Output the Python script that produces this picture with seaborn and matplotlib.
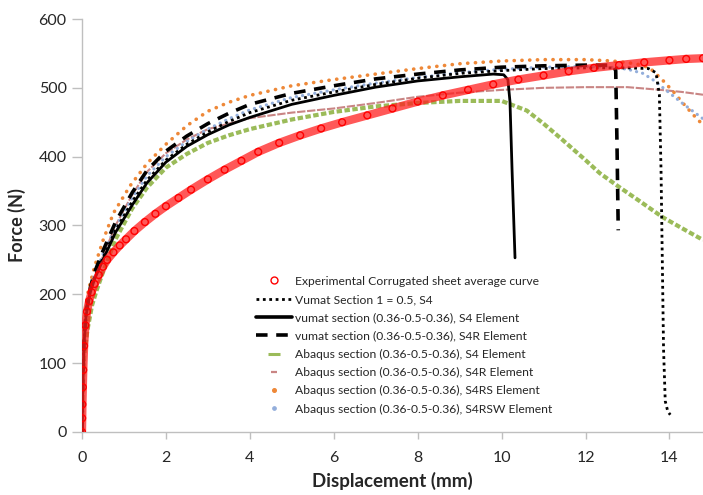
import numpy as np
import pandas as pd
import matplotlib
matplotlib.use("Agg")
import matplotlib.pyplot as plt
from matplotlib.lines import Line2D
import seaborn as sns

# ---------------- data ----------------
exp_x = [0, 0.005, 0.01, 0.02, 0.03, 0.05, 0.08, 0.12, 0.17, 0.23, 0.3, 0.4, 0.5, 0.6, 0.75, 0.9,
         1.05, 1.25, 1.5, 1.75, 2.0, 2.3, 2.6, 3.0, 3.4, 3.8, 4.2, 4.7, 5.2, 5.7, 6.2, 6.8, 7.4,
         8.0, 8.6, 9.2, 9.8, 10.4, 11.0, 11.6, 12.2, 12.8, 13.4, 14.0, 14.4, 14.8]
exp_y = [0, 20, 40, 65, 90, 125, 155, 175, 190, 203, 215, 228, 240, 250, 261, 271,
         280, 292, 305, 317, 328, 340, 352, 367, 381, 394, 407, 420, 431, 441, 450, 460, 470,
         480, 489, 497, 505, 512, 518, 524, 529, 533, 537, 540, 542, 543]

vs1_x = [0, 0.02, 0.05, 0.1, 0.2, 0.3, 0.5, 0.8, 1.2, 1.55, 2.0, 2.5, 3.0, 3.5, 4.0, 5.0, 6.0, 7.0,
         8.0, 9.0, 10.0, 11.0, 12.0, 13.0, 13.5, 13.68, 13.76, 13.8, 13.83, 13.86, 13.9, 13.96, 14.02]
vs1_y = [0, 70, 130, 172, 205, 225, 253, 293, 335, 366, 395, 418, 436, 451, 464, 482, 494, 505,
         514, 521, 525, 528, 529, 529, 528, 522, 490, 380, 250, 120, 45, 30, 25]

vs4_x = [0, 0.02, 0.05, 0.1, 0.2, 0.3, 0.5, 0.8, 1.2, 1.55, 2.0, 2.5, 3.0, 3.5, 4.0, 5.0, 6.0, 7.0,
         8.0, 9.0, 9.8, 10.05, 10.15, 10.2, 10.25, 10.32]
vs4_y = [0, 70, 130, 170, 203, 222, 250, 290, 330, 362, 392, 415, 432, 446, 457, 476, 489, 501,
         510, 516, 520, 519, 512, 480, 380, 253]

vs4r_x = [0, 0.02, 0.05, 0.1, 0.2, 0.3, 0.5, 0.8, 1.2, 1.55, 2.0, 2.5, 3.0, 3.5, 4.0, 5.0, 6.0, 7.0,
          8.0, 9.0, 10.0, 11.0, 12.0, 12.65, 12.72, 12.75, 12.78]
vs4r_y = [0, 72, 135, 176, 210, 232, 263, 305, 348, 380, 408, 430, 448, 463, 476, 492, 503, 513,
          520, 526, 530, 532, 533, 533, 525, 420, 293]

ab4_x = [0, 0.02, 0.05, 0.13, 0.24, 0.35, 0.5, 0.8, 1.2, 1.55, 2.0, 2.5, 3.0, 3.5, 4.0, 5.0, 6.0,
         7.0, 8.0, 9.0, 10.0, 10.6, 11.0, 11.46, 12.0, 12.34, 12.8, 13.3, 13.84, 14.3, 14.8]
ab4_y = [0, 70, 110, 148, 184, 206, 232, 280, 325, 355, 384, 404, 420, 431, 440, 454, 465,
         473, 478, 481, 481, 467, 448, 424, 395, 376, 356, 335, 312, 296, 279]

ab4r_x = [0, 0.02, 0.05, 0.1, 0.2, 0.3, 0.5, 0.8, 1.2, 1.55, 2.0, 2.5, 3.0, 4.0, 5.0, 6.0, 7.0,
          8.0, 9.0, 10.0, 11.0, 12.0, 13.0, 13.8, 14.3, 14.8]
ab4r_y = [0, 70, 130, 172, 205, 225, 255, 300, 345, 378, 405, 425, 440, 456, 464, 470, 478,
          487, 493, 497, 500, 501, 501, 497, 494, 490]

ab4rs_x = [0, 0.02, 0.05, 0.1, 0.15, 0.3, 0.5, 0.75, 1.15, 1.55, 2.0, 2.5, 3.0, 3.5, 4.0, 5.0,
           6.0, 7.0, 8.0, 9.0, 10.0, 11.0, 12.0, 12.65, 13.2, 13.53, 13.84, 14.1, 14.32, 14.55, 14.8]
ab4rs_y = [0, 75, 140, 185, 205, 240, 278, 318, 358, 390, 418, 445, 466, 479, 489, 503,
           512, 520, 528, 535, 539, 541, 541, 539, 535, 529, 511, 494, 478, 462, 446]

ab4rsw_x = [0, 0.02, 0.05, 0.1, 0.2, 0.3, 0.5, 0.8, 1.2, 1.55, 2.0, 2.5, 3.0, 3.5, 4.0, 5.0, 6.0,
            7.0, 8.0, 9.0, 10.0, 11.0, 12.0, 12.6, 13.0, 13.37, 13.65, 13.93, 14.3, 14.8]
ab4rsw_y = [0, 70, 132, 174, 207, 228, 258, 298, 340, 372, 400, 422, 440, 455, 468, 486, 497,
            507, 515, 522, 527, 530, 531, 530, 527, 521, 510, 496, 478, 455]

labels = [
    "Experimental Corrugated sheet average curve",
    "Vumat Section 1 = 0.5, S4",
    "vumat section (0.36-0.5-0.36), S4 Element",
    "vumat section (0.36-0.5-0.36), S4R Element",
    "Abaqus section (0.36-0.5-0.36), S4 Element",
    "Abaqus section (0.36-0.5-0.36), S4R Element",
    "Abaqus section (0.36-0.5-0.36), S4RS Element",
    "Abaqus section (0.36-0.5-0.36), S4RSW Element",
]

x_ticks = [0, 2, 4, 6, 8, 10, 12, 14]
y_ticks = [0, 100, 200, 300, 400, 500, 600]

# ---------------- style ----------------
sns.set_theme(style="white")
plt.rcParams["font.family"] = ["Lato", "DejaVu Sans"]

RED = "#FF0000"
GREEN = "#9BBB59"
ROSE = "#C98584"
ORANGE = "#EE8838"
BLUE = "#93AEDB"
GRAY = "#BFBFBF"
TXT = "#262626"

fig = plt.figure(figsize=(7.03, 4.95), dpi=100)
ax = fig.add_axes([0.1166, 0.1273, 0.8834, 0.8343])

def draw(x, y, **kw):
    sns.lineplot(x=x, y=y, ax=ax, sort=False, estimator=None, legend=False, **kw)

draw(ab4_x, ab4_y, color=GREEN, lw=3.0, linestyle=(0, (1.3, 0.6)), zorder=2)
draw(ab4r_x, ab4r_y, color=ROSE, lw=1.5, linestyle=(0, (4, 0.8)), zorder=2)
draw(ab4rs_x, ab4rs_y, color=ORANGE, lw=2.6, linestyle=(0, (0.05, 2.1)),
     dash_capstyle="round", zorder=3)
draw(ab4rsw_x, ab4rsw_y, color=BLUE, lw=2.3, linestyle=(0, (0.05, 1.9)),
     dash_capstyle="round", zorder=3)
draw(vs1_x, vs1_y, color="black", lw=2.0, linestyle=(0, (1, 1.3)), zorder=4)
draw(vs4_x, vs4_y, color="black", lw=2.0, zorder=4)
draw(vs4r_x, vs4r_y, color="black", lw=2.6, linestyle=(0, (3.2, 2.4)), zorder=4)
draw(exp_x, exp_y, color="#FF2020", lw=6.0, alpha=0.75, zorder=5)
ax.scatter(exp_x, exp_y, s=24, facecolors="none", edgecolors=RED, linewidths=1.0, zorder=6)

ax.set_xlim(0, 14.8)
ax.set_ylim(0, 600)
ax.set_xticks(x_ticks)
ax.set_yticks(y_ticks)
ax.tick_params(axis="x", which="major", length=5, width=1, color=GRAY,
               direction="out", labelsize=11.5, labelcolor=TXT, pad=9, bottom=True)
ax.tick_params(axis="y", which="major", length=7, width=1, color=GRAY,
               direction="out", labelsize=11.5, labelcolor=TXT, pad=4, left=True)
for s in ["top", "right"]:
    ax.spines[s].set_visible(False)
for s in ["left", "bottom"]:
    ax.spines[s].set_color(GRAY)
    ax.spines[s].set_linewidth(1)
ax.set_xlabel("Displacement (mm)", fontsize=13.5, fontweight="bold", color=TXT, labelpad=5)
ax.set_ylabel("Force (N)", fontsize=13, fontweight="bold", color=TXT, labelpad=9)
ax.grid(False)

handles = [
    Line2D([], [], ls="none", marker="o", ms=5, mfc="none", mec=RED, mew=1),
    Line2D([], [], color="black", lw=2.0, ls=(0, (1, 1.3))),
    Line2D([], [], color="black", lw=2.6),
    Line2D([], [], color="black", lw=2.6, ls=(0, (3.2, 2.4))),
    Line2D([], [], ls="none", marker="_", ms=8, mec=GREEN, mew=2.2),
    Line2D([], [], ls="none", marker="_", ms=5, mec=ROSE, mew=1.6),
    Line2D([], [], ls="none", marker="o", ms=2.6, mfc=ORANGE, mec=ORANGE),
    Line2D([], [], ls="none", marker="o", ms=2.4, mfc=BLUE, mec=BLUE),
]
leg = ax.legend(handles, labels, loc="upper left", bbox_to_anchor=(0.364, 0.443),
                bbox_transform=fig.transFigure, frameon=False, fontsize=8.7,
                handlelength=3.0, handletextpad=0.25, labelspacing=0.6,
                borderpad=0, borderaxespad=0)
for t in leg.get_texts():
    t.set_color(TXT)

fig.savefig("out.png", dpi=100)
